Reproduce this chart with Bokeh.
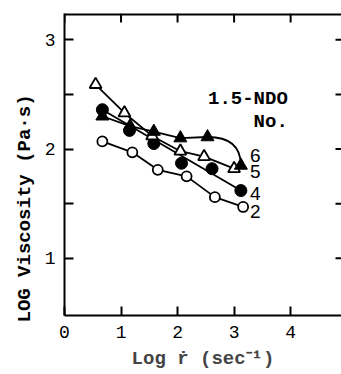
import numpy as np
from bokeh.plotting import figure
from bokeh.models import FixedTicker, Range1d, Title
from bokeh.embed import file_html
from bokeh.resources import INLINE
from bokeh.core.properties import value

# ---- data ----
x2 = [0.67, 1.20, 1.65, 2.16, 2.66, 3.16]
y2 = [2.07, 1.97, 1.81, 1.75, 1.56, 1.47]

x4 = [0.67, 1.15, 1.58, 2.07, 2.61, 3.12]
y4 = [2.36, 2.17, 2.05, 1.87, 1.82, 1.62]

x5 = [0.55, 1.06, 1.55, 2.05, 2.47, 3.00]
y5 = [2.59, 2.33, 2.12, 1.98, 1.93, 1.82]

x6 = [0.67, 1.16, 1.58, 2.05, 2.53, 3.12]
y6 = [2.30, 2.21, 2.16, 2.10, 2.11, 1.85]

series_names = ["6", "5", "4", "2"]
label_y = [1.945, 1.79, 1.595, 1.43]

x_ticks = [0, 1, 2, 3, 4]
y_ticks = [1, 2, 3]
y_minor = [1.5, 2.5]

X0, X1 = 0.0, 4.9
Y0, Y1 = 0.477, 3.24
MONO = "Liberation Mono"

p = figure(width=341, height=374, output_backend="svg", toolbar_location=None,
           x_range=Range1d(X0, X1), y_range=Range1d(Y0, Y1),
           min_border_left=64, min_border_right=0, min_border_top=13,
           min_border_bottom=59, background_fill_color="white",
           border_fill_color="white", outline_line_color=None)
p.grid.visible = False

for ax in [p.xaxis[0], p.yaxis[0]]:
    ax.axis_line_width = 2
    ax.major_tick_line_width = 2
    ax.minor_tick_line_width = 2
    ax.major_tick_in = 9
    ax.major_tick_out = 0
    ax.minor_tick_in = 9
    ax.minor_tick_out = 0
    ax.major_label_text_font = MONO
    ax.major_label_text_font_size = "18px"
    ax.major_label_text_color = "black"
    ax.axis_line_color = "black"
    ax.major_tick_line_color = "black"
    ax.minor_tick_line_color = "black"

p.xaxis[0].ticker = FixedTicker(ticks=x_ticks)
p.yaxis[0].ticker = FixedTicker(ticks=y_ticks, minor_ticks=y_minor)
p.xaxis[0].major_label_standoff = 10
p.yaxis[0].major_label_standoff = 9

p.xaxis[0].axis_label = "Log \u1e59 (sec\u207b\u00b9)"
p.xaxis[0].axis_label_text_font = MONO
p.xaxis[0].axis_label_text_font_style = "bold"
p.xaxis[0].axis_label_text_font_size = "19px"
p.xaxis[0].axis_label_standoff = 7

# y label as a side title (lets it sit lower than centre, as in the original)
p.add_layout(Title(text="LOG Viscosity (Pa\u00b7s)", align="left", offset=-7,
                   text_font=MONO, text_font_style="bold", text_font_size="19px",
                   text_color="black", standoff=12), "left")

# top frame edge and inward ticks on top / right (derived from tick lists)
tick_top = 9 * (Y1 - Y0) / 302.0
tick_right = 6 * (X1 - X0) / 277.0
p.segment(x0=[X0], y0=[Y1], x1=[X1], y1=[Y1], line_color="black", line_width=4)
p.segment(x0=x_ticks, y0=[Y1] * len(x_ticks), x1=x_ticks, y1=[Y1 - tick_top] * len(x_ticks),
          line_color="black", line_width=2)
ry = y_ticks + y_minor
p.segment(x0=[X1] * len(ry), y0=ry, x1=[X1 - tick_right] * len(ry), y1=ry,
          line_color="black", line_width=2)

lw = 1.8
# series 2: polyline through points, open circles
p.line(x2, y2, line_color="black", line_width=lw)
p.scatter(x2, y2, marker="circle", size=10, fill_color="white", line_color="black", line_width=1.8)

# series 4: straight line first -> last, filled circles
p.line([x4[0], x4[-1]], [y4[0], y4[-1]], line_color="black", line_width=lw)
p.scatter(x4, y4, marker="circle", size=12, fill_color="black", line_color="black")

# series 5: polyline, open triangles
p.line(x5, y5, line_color="black", line_width=lw)
p.scatter(x5, y5, marker="triangle", size=12, fill_color="white", line_color="black", line_width=1.8)

# series 6: polyline then a bent arc to the last point, filled triangles
p.line(x6[:-1], y6[:-1], line_color="black", line_width=lw)
p.quadratic(x0=x6[-2], y0=y6[-2], x1=x6[-1], y1=y6[-1], cx=x6[-1], cy=y6[-2],
            line_color="black", line_width=lw)
p.scatter(x6, y6, marker="triangle", size=13, fill_color="black", line_color="black")

# series numbers
p.text(x=[3.28] * len(series_names), y=label_y, text=series_names,
       text_font=value("Liberation Sans"), text_font_size="19px",
       text_align="left", text_baseline="middle", text_color="black")

# annotation
p.text(x=[3.95, 3.95], y=[2.46, 2.25], text=["1.5-NDO", "No."],
       text_font=value(MONO), text_font_style="bold", text_font_size="19px",
       text_align="right", text_baseline="middle", text_color="black")

open("out.html", "w").write(file_html(p, INLINE))
